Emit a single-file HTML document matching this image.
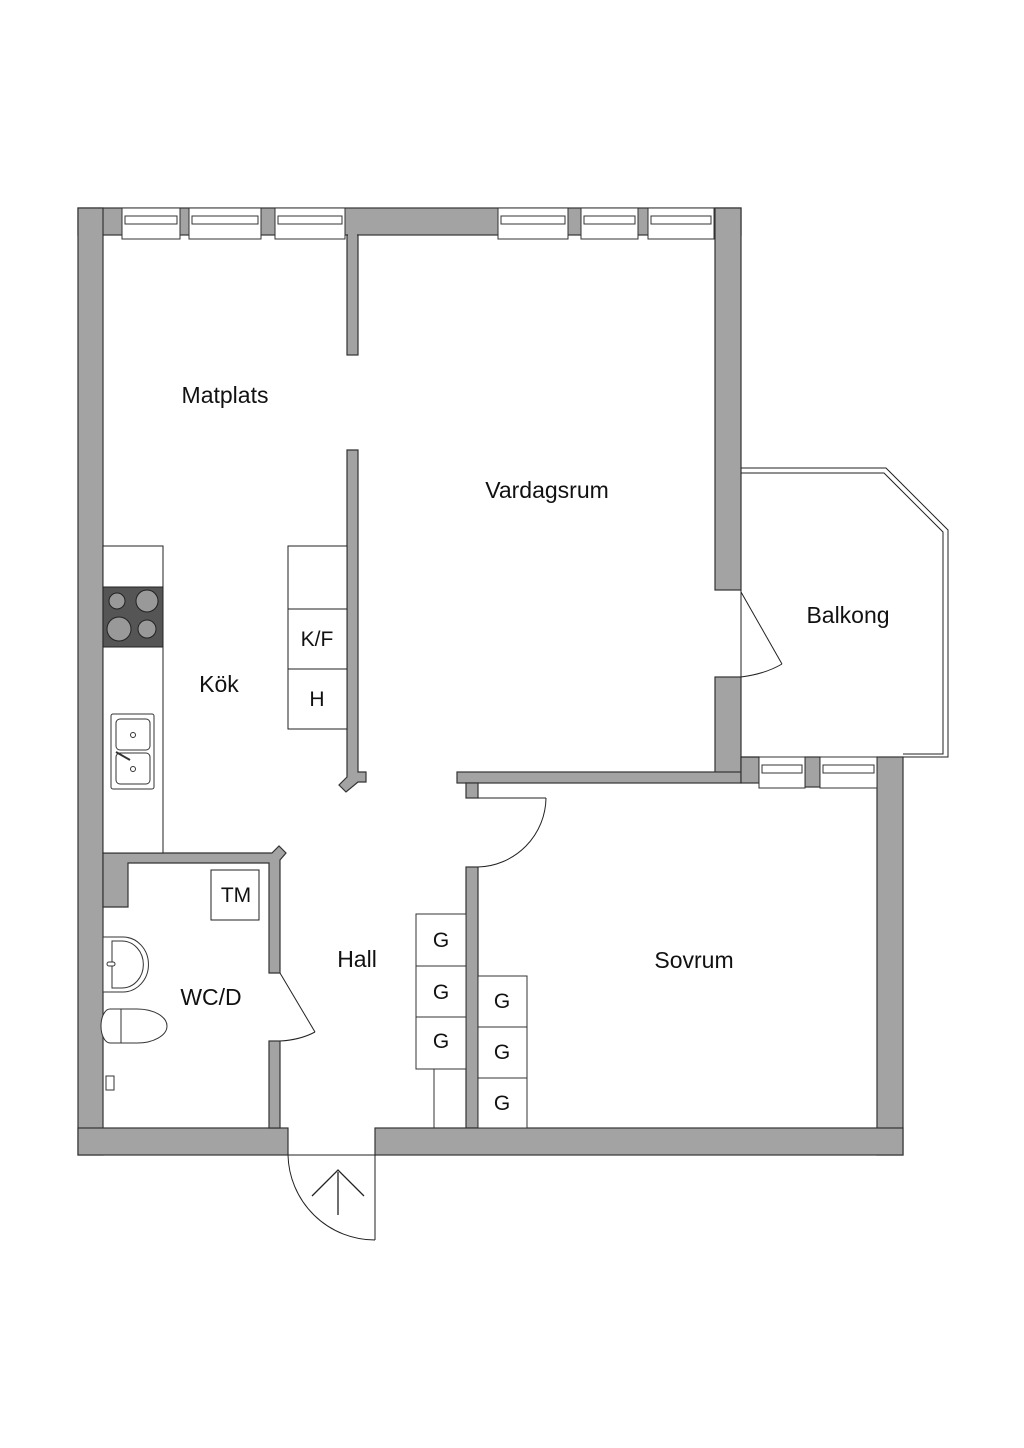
<!DOCTYPE html>
<html><head><meta charset="utf-8"><style>
html,body{margin:0;padding:0;background:#fff}
svg{display:block}
text{font-family:"Liberation Sans",sans-serif;fill:#111}
</style></head><body>
<svg width="1024" height="1448" viewBox="0 0 1024 1448" xmlns="http://www.w3.org/2000/svg">
<g fill="#a3a3a3" stroke="#333" stroke-width="1.2">
<!-- top wall -->
<rect x="78" y="208" width="663" height="27"/>
<!-- left wall -->
<rect x="78" y="208" width="25" height="947"/>
<!-- right wall upper -->
<rect x="715" y="208" width="26" height="382"/>
<rect x="715" y="677" width="26" height="105"/>
<!-- wall living/bedroom -->
<rect x="457" y="772" width="284" height="11"/>
<rect x="466" y="783" width="12" height="15"/>
<rect x="741" y="757" width="18" height="26"/>
<rect x="805" y="757" width="15" height="30"/>
<rect x="877" y="757" width="26" height="398"/>
<!-- bedroom/hall wall -->
<rect x="466" y="867" width="12" height="261"/>
<!-- bottom wall -->
<rect x="78" y="1128" width="210" height="27"/>
<rect x="375" y="1128" width="528" height="27"/>
<!-- interior partition -->
<rect x="347" y="235" width="11" height="120"/>
<path d="M347 450 H358 V772 H366 V782 H358 L346 792 L339 785 L347 777 Z"/>
<!-- kitchen/WC wall -->
<path d="M103 853 H272 L279 846 L286 853 L280 860 V973 H269 V863 H128 V907 H103 Z"/>
<rect x="269" y="1041" width="11" height="87"/>
</g>
<!-- cover seams -->
<g fill="#a3a3a3">
<rect x="79" y="209" width="23" height="25"/>
<rect x="716" y="209" width="24" height="25"/>
<rect x="79" y="1129" width="23" height="25"/>
<rect x="878" y="1129" width="24" height="25"/>
<rect x="467" y="773" width="10" height="9"/>
<rect x="716" y="773" width="24" height="9"/>
<rect x="467" y="1129" width="10" height="10"/>
<rect x="270" y="1129" width="10" height="10"/>
<rect x="348" y="226" width="9" height="10"/>
<rect x="742" y="758" width="16" height="24"/>
<rect x="79" y="854" width="23" height="52"/>
</g>
<!-- windows -->
<g fill="#fff" stroke="#333" stroke-width="1">
<rect x="122" y="208" width="58" height="31"/><rect x="125" y="216" width="52" height="8"/>
<rect x="189" y="208" width="72" height="31"/><rect x="192" y="216" width="66" height="8"/>
<rect x="275" y="208" width="70" height="31"/><rect x="278" y="216" width="64" height="8"/>
<rect x="498" y="208" width="70" height="31"/><rect x="501" y="216" width="64" height="8"/>
<rect x="581" y="208" width="57" height="31"/><rect x="584" y="216" width="51" height="8"/>
<rect x="648" y="208" width="66" height="31"/><rect x="651" y="216" width="60" height="8"/>
<rect x="759" y="757" width="46" height="31"/><rect x="762" y="765" width="40" height="8"/>
<rect x="820" y="757" width="57" height="31"/><rect x="823" y="765" width="51" height="8"/>
</g>
<!-- balcony -->
<g fill="none" stroke="#222" stroke-width="1">
<path d="M741 468 H886 L948 530 V757 H903"/>
<path d="M741 473 H884 L943 532 V754 H903"/>
<path d="M741 757 H759"/>
<line x1="741" y1="590" x2="741" y2="677"/>
<!-- balcony door -->
<path d="M741 592 L782 664"/>
<path d="M741 677 Q765 674 782 664"/>
<!-- bedroom door -->
<path d="M478 798 H546"/>
<path d="M546 798 A70 70 0 0 1 478 867"/>
<!-- WC door -->
<path d="M280 973 L315 1032"/>
<path d="M280 1041 Q300 1040 315 1032"/>
<!-- entrance door -->
<path d="M288 1155 H375"/>
<path d="M375 1155 V1240"/>
<path d="M288 1155 A87 87 0 0 0 375 1240"/>
<path d="M338 1215 V1172 M312 1196 L338 1170 L364 1196" stroke-width="1.3"/>
</g>
<!-- kitchen -->
<g fill="#fff" stroke="#222" stroke-width="1">
<rect x="103" y="546" width="60" height="307"/>
<rect x="288" y="546" width="59" height="63"/>
<rect x="288" y="609" width="59" height="60"/>
<rect x="288" y="669" width="59" height="60"/>
<rect x="211" y="870" width="48" height="50"/>
</g>
<rect x="103" y="587" width="60" height="60" fill="#555" stroke="#222"/>
<g fill="#999" stroke="#222" stroke-width="1">
<circle cx="117" cy="601" r="8"/><circle cx="147" cy="601" r="11"/>
<circle cx="119" cy="629" r="12"/><circle cx="147" cy="629" r="9"/>
</g>
<g fill="#fff" stroke="#333" stroke-width="1">
<rect x="111" y="714" width="43" height="75" rx="2"/>
<rect x="116" y="719" width="34" height="31" rx="4"/>
<rect x="116" y="753" width="34" height="31" rx="4"/>
<circle cx="133" cy="735" r="2.5"/><circle cx="133" cy="769" r="2.5"/>
<line x1="116" y1="752" x2="130" y2="760" stroke-width="2"/>
</g>
<!-- WC fixtures -->
<g fill="#fff" stroke="#333" stroke-width="1">
<path d="M103 937 H123 A25 27 0 0 1 123 992 H103 Z"/>
<path d="M112 941 H122 A20 22 0 0 1 122 988 H112 Z"/>
<rect x="107" y="962" width="8" height="4" rx="2"/>
<path d="M121 1009 H137 A30 17 0 0 1 137 1043 H121 Z"/>
<path d="M110 1009 H121 V1043 H110 A9 17 0 0 1 110 1009 Z"/>
<rect x="106" y="1076" width="8" height="14"/>
</g>
<!-- wardrobes -->
<g fill="#fff" stroke="#333" stroke-width="1">
<rect x="416" y="914" width="50" height="52"/>
<rect x="416" y="966" width="50" height="51"/>
<rect x="416" y="1017" width="50" height="52"/>
<line x1="434" y1="1069" x2="434" y2="1128"/>
<rect x="478" y="976" width="49" height="51"/>
<rect x="478" y="1027" width="49" height="51"/>
<rect x="478" y="1078" width="49" height="50"/>
</g>
<g font-size="21" text-anchor="middle">
<text x="441" y="947">G</text><text x="441" y="999">G</text><text x="441" y="1048">G</text>
<text x="502" y="1008">G</text><text x="502" y="1059">G</text><text x="502" y="1110">G</text>
<text x="317" y="646">K/F</text><text x="317" y="706">H</text>
<text x="236" y="902">TM</text>
</g>
<g font-size="23" text-anchor="middle">
<text x="225" y="403">Matplats</text>
<text x="547" y="498">Vardagsrum</text>
<text x="848" y="623">Balkong</text>
<text x="219" y="692">Kök</text>
<text x="357" y="967">Hall</text>
<text x="211" y="1005">WC/D</text>
<text x="694" y="968">Sovrum</text>
</g>
</svg>
</body></html>
